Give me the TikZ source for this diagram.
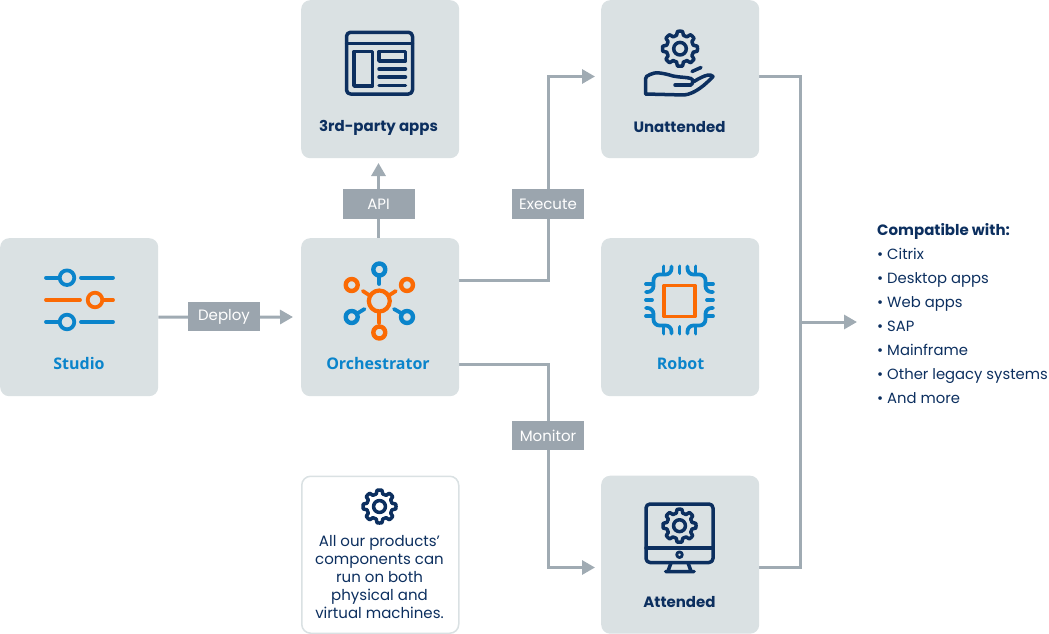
\documentclass[tikz,border=0pt]{standalone}
\usepackage{fontspec}
\setmainfont{Poppins}
\newfontfamily\opensans{Open Sans}
\usetikzlibrary{arrows.meta,backgrounds}
\definecolor{boxfill}{HTML}{DAE1E3}
\definecolor{navy}{HTML}{0C2F5F}
\definecolor{blueicon}{HTML}{0A84CB}
\definecolor{orangeicon}{HTML}{FB6A04}
\definecolor{linegray}{HTML}{A0ABB3}
\definecolor{taggray}{HTML}{9BA5AE}
\tikzset{
  x=1pt,y=-1pt,
  tile/.style={draw=none,fill=boxfill,rounded corners=9pt,minimum width=158pt,minimum height=158pt,inner sep=0pt,anchor=north west},
  notetile/.style={tile,fill=white,draw=boxfill,line width=1.5pt,minimum width=157pt,minimum height=157pt},
  tag/.style={fill=taggray,text=white,font=\fontsize{15}{16}\selectfont,minimum width=72pt,minimum height=29.5pt,inner sep=0pt},
  conn/.style={draw=linegray,line width=3pt},
  arrowconn/.style={conn,-{Triangle[length=13pt,width=14pt]}},
  titlenavy/.style={text=navy,font=\fontsize{15}{16}\selectfont\bfseries,inner sep=0pt},
  titleblue/.style={text=blueicon,font=\opensans\fontsize{16}{20}\selectfont\bfseries,inner sep=0pt},
  listline/.style={text=navy,font=\fontsize{14.8}{16}\selectfont,inner sep=0pt,anchor=base west},
  navyicon/.style={draw=navy,line width=3.5pt,line cap=round,line join=round},
  blueline/.style={draw=blueicon,line width=3.8pt,line cap=round,line join=round},
  orangeline/.style={draw=orangeicon,line width=3.8pt,line cap=round,line join=round},
}
\newcommand{\gearicon}[3]{% x y R
  \draw[navyicon] plot[domain=0:360,samples=193,smooth] ({#1+#3*(0.78+0.22*min(1,max(0,0.5+1.2*cos(8*\x))))*cos(\x)},{#2+#3*(0.78+0.22*min(1,max(0,0.5+1.2*cos(8*\x))))*sin(\x)}) -- cycle;
  \draw[navyicon] (#1,#2) circle[radius=#3*0.36];
}
\begin{document}
\begin{tikzpicture}
\useasboundingbox (0,0) rectangle (1049,634);
% tiles
\node[tile] (studio) at (0,238) {};
\node[tile] (orch) at (301,238) {};
\node[tile] (apps) at (301,0) {};
\node[tile] (unatt) at (601,0) {};
\node[tile] (robot) at (601,238) {};
\node[tile] (att) at (601,475.5) {};
\node[notetile] (note) at (301,475.5) {};
% tags
\node[tag] (deploy) at (224,316.5) {Deploy};
\node[tag] (api) at (378.5,204) {API};
\node[tag] (execute) at (548,204) {Execute};
\node[tag] (monitor) at (548,435.5) {Monitor};
% free ends
\coordinate (deploytip) at (293,317);
\coordinate (apitip) at (378.5,163);
\coordinate (exectip) at (595,76.5);
\coordinate (montip) at (595,567.5);
\coordinate (busA) at (800,76.5);
\coordinate (busB) at (800,567.5);
\coordinate (busmid) at (800,322);
\coordinate (bustip) at (857,322);
% connectors
\begin{pgfonlayer}{background}
\draw[arrowconn] (studio.east) -- (deploytip);
\draw[arrowconn] (api.south |- orch.north) -- (apitip);
\draw[arrowconn] ([yshift=37pt]orch.east) -| (execute.north |- exectip) -- (exectip);
\draw[arrowconn] ([yshift=-47pt]orch.east) -| (monitor.south |- montip) -- (montip);
\draw[conn] (unatt.east |- exectip) -- (busA) -- (busB) -- (att.east |- montip);
\draw[arrowconn] (busmid) -- (bustip);
\end{pgfonlayer}
% titles
\node[titleblue] (tstudio) at (79,363) {Studio};
\node[titleblue] (torch) at (378,363) {Orchestrator};
\node[titleblue] (trobot) at (680.5,363) {Robot};
\node[titlenavy] (tapps) at (378.5,127.5) {3rd-party apps};
\node[titlenavy] (tunatt) at (679.5,127.5) {Unattended};
\node[titlenavy] (tatt) at (679.5,602) {Attended};
% note text
\node[text=navy,font=\fontsize{15}{18}\selectfont,align=center,inner sep=0pt,anchor=center] (notetext) at (379.5,577) {All our products’\\components can\\run on both\\physical and\\virtual machines.};
% list
\node[listline,font=\fontsize{15}{16}\selectfont\bfseries] (lhead) at (877,235) {Compatible with:};
\node[listline] (l1) at (877,259) {• Citrix};
\node[listline] (l2) at (877,283) {• Desktop apps};
\node[listline] (l3) at (877,307) {• Web apps};
\node[listline] (l4) at (877,331) {• SAP};
\node[listline] (l5) at (877,355) {• Mainframe};
\node[listline] (l6) at (877,379) {• Other legacy systems};
\node[listline] (l7) at (877,403) {• And more};
% studio icon
\draw[blueline] (46,277.7) -- (58,277.7) (81,277.7) -- (113,277.7);
\draw[blueline] (67,277.7) circle[radius=7.3];
\draw[orangeline] (46,300) -- (80,300) (104,300) -- (113,300);
\draw[orangeline] (95,300) circle[radius=7.3];
\draw[blueline] (46,322) -- (58,322) (81,322) -- (113,322);
\draw[blueline] (67,322) circle[radius=7.3];
% apps icon
\draw[navyicon,rounded corners=4pt] (346.5,94) -- (346.5,32.3) -- (412.5,32.3) -- (412.5,94) -- cycle;
\draw[navyicon] (346.5,43.5) -- (412.5,43.5);
\draw[navyicon] (354,51.5) rectangle (372.5,86);
\draw[navyicon] (379,51.5) rectangle (405.5,61);
\draw[navyicon] (379,69) -- (405.5,69) (379,77) -- (405.5,77) (379,85.3) -- (405.5,85.3);
% orchestrator icon
\draw[orangeline,line width=4.2pt] (379.3,301) circle[radius=10.5];
\draw[blueline,line width=4.4pt] (379.3,269.5) circle[radius=6];
\draw[blueline] (379.3,276) -- (379.3,284);
\draw[orangeline,line width=4.4pt] (351.7,285) circle[radius=6];
\draw[orangeline,line width=4.4pt] (407,285) circle[radius=6];
\draw[blueline,line width=4.4pt] (351.7,317) circle[radius=6];
\draw[blueline,line width=4.4pt] (407,317) circle[radius=6];
\draw[orangeline,line width=4.4pt] (379.3,332.5) circle[radius=6];
\draw[orangeline] (379.3,312) -- (379.3,323);
\draw[orangeline] (362.8,291) -- (369,295) (395.8,291) -- (389.6,295);
\draw[blueline] (364.5,309) -- (358,313) (394,309) -- (401,313);
% robot icon
\draw[orangeline] (664,285.5) rectangle (695,316.5);
\foreach \sx/\sy in {-1/-1,1/-1,-1/1,1/1}{
  \draw[blueline,rounded corners=6pt] (679.5+8*\sx,300+\sy*33.5) -- (679.5+8*\sx,300+\sy*25.5) -- (679.5+26*\sx,300+\sy*25.5) -- (679.5+26*\sx,300+\sy*8) -- (679.5+33.5*\sx,300+\sy*8);
  \draw[blueline] (679.5+16*\sx,300+\sy*33.5) -- (679.5+16*\sx,300+\sy*27);
  \draw[blueline] (679.5+33.5*\sx,300+\sy*16) -- (679.5+27*\sx,300+\sy*16);
}
\draw[blueline] (679.5,266.5) -- (679.5,273) (679.5,333.5) -- (679.5,327) (646,300) -- (652,300) (713,300) -- (707,300);
% unattended icon
\gearicon{680}{48.7}{17.5}
\draw[navyicon] (690.5,85) .. controls (693,84) and (694,80) .. (691,78.5) .. controls (686,77) and (680,77.5) .. (673,76) .. controls (663,73) and (655,71.5) .. (650,74.5) .. controls (647,76) and (645.5,76.5) .. (645.5,79) -- (645.5,94) -- (684,95) .. controls (695,94) and (706,84) .. (713,76.5) .. controls (711,74) and (706,74) .. (694,81.5);
\draw[navyicon] (690.5,85) -- (675,85);
\draw[navyicon] (692,71.5) -- (701,67.5);
% attended icon
\draw[navyicon,rounded corners=4pt] (646,504) rectangle (713,562.5);
\draw[navyicon] (646,548) -- (713,548);
\draw[navyicon,line width=2.8pt] (679.5,554.7) circle[radius=2.8];
\draw[navyicon] (671,563) -- (668,571) (688,563) -- (691,571) (665.5,571.5) -- (694,571.5);
\gearicon{679.5}{525.7}{16.5}
% note gear
\gearicon{379.5}{506.5}{16.5}
\end{tikzpicture}
\end{document}
